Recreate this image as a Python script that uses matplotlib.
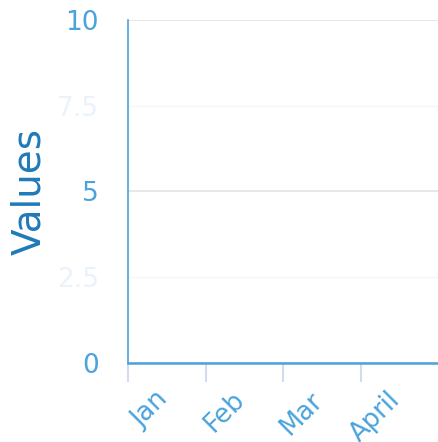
import matplotlib
matplotlib.use("Agg")
import matplotlib.pyplot as plt

categories = ["Jan", "Feb", "Mar", "April"]
y_major = [0, 5, 10]
y_minor = [2.5, 7.5]
y_major_labels = ["0", "5", "10"]
y_minor_labels = ["2.5", "7.5"]

fig = plt.figure(figsize=(4.38, 4.42), dpi=100)
W, H = 438, 442
ax = fig.add_axes([128 / W, (H - 363) / H, (438 - 128) / W, (363 - 20) / H])

ax.set_xlim(0, len(categories))
ax.set_ylim(0, 10)

ax.set_xticks(range(len(categories)))
ax.set_xticklabels([])
ax.tick_params(axis="x", length=14, width=1.5, color="#d3dbee")
for i, cat in enumerate(categories):
    ax.annotate(cat, xy=(i, 0), xycoords=ax.get_xaxis_transform(),
                xytext=(45, -24), textcoords="offset pixels",
                rotation=45, ha="right", va="top",
                fontsize=18.5, color="#4aa3dc", annotation_clip=False)

ax.set_yticks(y_major)
ax.set_yticklabels(y_major_labels, fontsize=19, color="#4aa3dc")
ax.set_yticks(y_minor, minor=True)
ax.set_yticklabels(y_minor_labels, minor=True, fontsize=19, color="#eaf3fb")
ax.tick_params(axis="y", which="both", length=0, pad=21)

ax.grid(axis="y", which="major", color="#e3e3e3", linewidth=1.2)
ax.grid(axis="y", which="minor", color="#f6f6f6", linewidth=1.0)
ax.set_axisbelow(True)

for s in ["top", "right"]:
    ax.spines[s].set_visible(False)
ax.spines["left"].set_color("#4aa3dc")
ax.spines["left"].set_linewidth(1.2)
ax.spines["bottom"].set_color("#4aa3dc")
ax.spines["bottom"].set_linewidth(1.8)

ax.set_ylabel("Values", fontsize=28, color="#1f7ab8", labelpad=6)

fig.savefig("out.png", dpi=100)
